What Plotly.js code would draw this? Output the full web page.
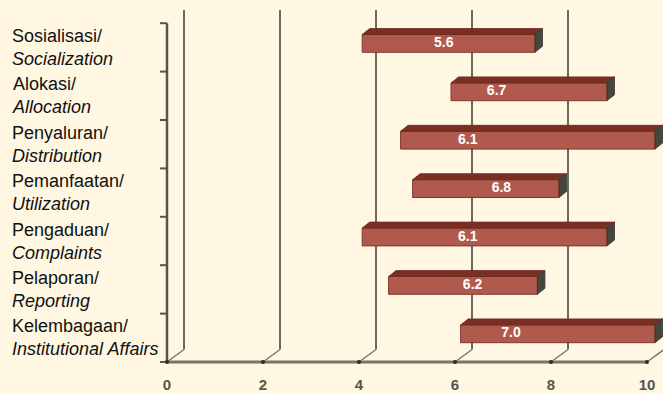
<!DOCTYPE html>
<html>
<head>
<meta charset="utf-8">
<script src="https://cdn.plot.ly/plotly-3.0.1.min.js"></script>
<style>
  html, body { margin: 0; padding: 0; background: #FFF7E2; }
  #chart { width: 663px; height: 394px; }
</style>
</head>
<body>
<div id="chart"></div>
<script>
// Aspect names (Indonesian / English), top to bottom
const namesId = ['Sosialisasi/', 'Alokasi/', 'Penyaluran/', 'Pemanfaatan/', 'Pengaduan/', 'Pelaporan/', 'Kelembagaan/'];
const namesEn = ['Socialization', 'Allocation', 'Distribution', 'Utilization', 'Complaints', 'Reporting', 'Institutional Affairs'];

// Score range (lowest to highest) and the mean score for each aspect
const scoreLow  = [3.9, 5.75, 4.7, 4.95, 3.9, 4.45, 5.95];
const scoreHigh = [7.5, 9.0, 10.0, 8.0, 9.0, 7.55, 10.0];
const scoreMean = [5.6, 6.7, 6.1, 6.8, 6.1, 6.2, 7.0];

// Value axis ticks
const xTicks = [0, 2, 4, 6, 8, 10];
const xTickText = ['0', '2', '4', '6', '8', '10'];

// ---- pseudo-3D geometry (in axis units) ----
const UX = 48;        // px per value unit
const UY = 48.4;      // px per category band
const WALL_DX = 17 / UX, WALL_DY = 12.5 / UY;   // depth of the back wall
const BAR_DX = 8 / UX,  BAR_DY = 4 / UY;        // plane of the bar front faces
const DEP_DX = 7.5 / UX, DEP_DY = 6 / UY;       // bar depth
const BAR_H = 17.8 / UY;
const FLOOR = -0.5;
const TOP_FRONT = namesId.length - 0.5;
const TOP_BACK = FLOOR + 352 / UY;

const n = namesId.length;
const yPos = namesId.map((_, i) => n - 1 - i);

// frame: back-wall grid, floor diagonals, front axes
const gridCol = '#6a6a62';
const shapes = [];
xTicks.slice(0, -1).forEach(t => {
  shapes.push({type: 'line', layer: 'below', xref: 'x', yref: 'y',
    x0: t + WALL_DX, x1: t + WALL_DX, y0: FLOOR + WALL_DY, y1: TOP_BACK,
    line: {color: gridCol, width: 2}});
});
xTicks.forEach(t => {
  shapes.push({type: 'line', layer: 'below', xref: 'x', yref: 'y',
    x0: t, x1: t + WALL_DX, y0: FLOOR, y1: FLOOR + WALL_DY,
    line: {color: '#77776f', width: 1.5}});
});
shapes.push({type: 'line', layer: 'below', xref: 'x', yref: 'y',
  x0: 0, x1: xTicks[xTicks.length - 1], y0: FLOOR, y1: FLOOR,
  line: {color: '#75756d', width: 3}});
shapes.push({type: 'line', layer: 'below', xref: 'x', yref: 'y',
  x0: 0, x1: 0, y0: FLOOR, y1: TOP_FRONT,
  line: {color: '#55554e', width: 2.5}});
for (let j = 0; j <= n; j++) {
  shapes.push({type: 'line', layer: 'below', xref: 'x', yref: 'y',
    x0: -7 / UX, x1: 0, y0: FLOOR + j, y1: FLOOR + j,
    line: {color: '#55554e', width: 2}});
}

// bar front faces
const fronts = {
  type: 'bar', orientation: 'h',
  y: yPos.map(k => k + BAR_DY),
  base: scoreLow.map(v => v + BAR_DX),
  x: scoreHigh.map((v, i) => v - scoreLow[i]),
  width: BAR_H,
  marker: {color: '#AF5A4C', line: {color: '#7d3a2f', width: 1}},
  hoverinfo: 'skip', showlegend: false
};

// top and side faces of each bar
const topX = [], topY = [], sideX = [], sideY = [];
yPos.forEach((k, i) => {
  const x0 = scoreLow[i] + BAR_DX, x1 = scoreHigh[i] + BAR_DX;
  const yt = k + BAR_DY + BAR_H / 2, yb = k + BAR_DY - BAR_H / 2;
  topX.push(x0, x0 + DEP_DX, x1 + DEP_DX, x1, x0, null);
  topY.push(yt, yt + DEP_DY, yt + DEP_DY, yt, yt, null);
  sideX.push(x1, x1 + DEP_DX, x1 + DEP_DX, x1, x1, null);
  sideY.push(yt, yt + DEP_DY, yb + DEP_DY, yb, yt, null);
});
const tops = {type: 'scatter', mode: 'lines', x: topX, y: topY, fill: 'toself',
  fillcolor: '#7A2F25', line: {color: '#6a2820', width: 0.8},
  hoverinfo: 'skip', showlegend: false};
const sides = {type: 'scatter', mode: 'lines', x: sideX, y: sideY, fill: 'toself',
  fillcolor: '#46463f', line: {color: '#33332e', width: 0.8},
  hoverinfo: 'skip', showlegend: false};

// small marks where the floor ticks meet the front axis
const tickDots = {type: 'scatter', mode: 'markers', x: xTicks, y: xTicks.map(() => FLOOR),
  marker: {color: '#2f2f2a', size: 4}, hoverinfo: 'skip', showlegend: false, cliponaxis: false};

// mean score labels
const labels = {type: 'scatter', mode: 'text',
  x: scoreMean.map(v => v + BAR_DX), y: yPos.map(k => k + BAR_DY),
  text: scoreMean.map(v => v.toFixed(1)),
  textposition: 'middle center',
  textfont: {family: 'Liberation Sans, Arial, sans-serif', size: 14, color: '#ffffff', weight: 'bold'},
  hoverinfo: 'skip', showlegend: false, cliponaxis: false};

// category names on the left
const PLOT_L = 157, PLOT_W = 663 - PLOT_L;
const annotations = yPos.map((k, i) => ({
  xref: 'paper', yref: 'y',
  x: (10 - PLOT_L) / PLOT_W, y: k,
  xanchor: 'left', yanchor: 'middle', align: 'left',
  showarrow: false,
  text: namesId[i] + '<br><i>' + namesEn[i] + '</i>',
  font: {family: 'Liberation Sans, Arial, sans-serif', size: 18, color: '#111111'}
}));

const layout = {
  width: 663, height: 394,
  margin: {l: PLOT_L, r: 0, t: 6, b: 26, pad: 0},
  paper_bgcolor: '#FFF7E2', plot_bgcolor: '#FFF7E2',
  showlegend: false,
  xaxis: {
    range: [-(167 - PLOT_L) / UX, (663 - 167) / UX],
    tickvals: xTicks, ticktext: xTickText,
    showgrid: false, zeroline: false, showline: false, ticks: '',
    ticklabelstandoff: 6,
    tickfont: {family: 'Liberation Sans Narrow, Arial Narrow, Liberation Sans, Arial', size: 15, color: '#55554f', weight: 'bold'},
    fixedrange: true
  },
  yaxis: {
    range: [FLOOR - 6 / UY, FLOOR + 362 / UY - 6 / UY],
    showgrid: false, zeroline: false, showline: false, ticks: '',
    showticklabels: false, fixedrange: true
  },
  shapes: shapes,
  annotations: annotations
};

Plotly.newPlot('chart', [fronts, tops, sides, tickDots, labels], layout,
  {staticPlot: true, displayModeBar: false});
</script>
</body>
</html>
